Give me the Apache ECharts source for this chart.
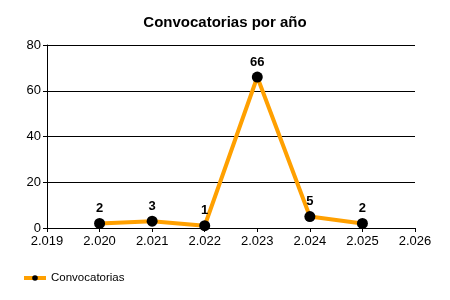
<!DOCTYPE html>
<html><head><meta charset="utf-8">
<script src="https://cdn.jsdelivr.net/npm/echarts@6/dist/echarts.min.js"></script>
<style>html,body{margin:0;padding:0;background:#fff}#c{width:450px;height:300px}</style>
</head><body><div id="c"></div>
<script>
const years = [2020, 2021, 2022, 2023, 2024, 2025];
const convocatorias = [2, 3, 1, 66, 5, 2];
const yTicks = [0, 20, 40, 60, 80];
const seriesName = 'Convocatorias';
const titleText = 'Convocatorias por año';

const fmtYear = v => { const s = String(Math.round(v)); return s.slice(0, 1) + '.' + s.slice(1); };
const FONT = 'Liberation Sans';

const chart = echarts.init(document.getElementById('c'), null, {renderer: 'canvas'});
chart.setOption({
  animation: false,
  backgroundColor: '#fff',
  title: {text: titleText, left: 'center', top: 10,
    textStyle: {fontFamily: FONT, fontSize: 15, fontWeight: 'bold', color: '#000'}},
  grid: {left: 47, right: 35, top: 45, bottom: 72},
  legend: {left: 22, top: 272, padding: 0, itemWidth: 22, itemHeight: 7, itemGap: 10,
    lineStyle: {width: 4, color: '#FFA000'},
    textStyle: {fontFamily: FONT, fontSize: 11.5, color: '#000'},
    data: [seriesName]},
  xAxis: {type: 'value', min: 2019, max: 2026, interval: 1,
    axisLine: {show: true, lineStyle: {color: '#000', width: 1}},
    axisTick: {show: true, length: 4, lineStyle: {color: '#000'}},
    splitLine: {show: false},
    axisLabel: {formatter: fmtYear, color: '#000', fontFamily: FONT, fontSize: 13, margin: 7}},
  yAxis: {type: 'value', min: yTicks[0], max: yTicks[yTicks.length - 1], interval: 20,
    axisLine: {show: true, lineStyle: {color: '#000', width: 1}},
    axisTick: {show: true, length: 4, lineStyle: {color: '#000'}},
    splitLine: {show: true, lineStyle: {color: '#000', width: 1}},
    axisLabel: {color: '#000', fontFamily: FONT, fontSize: 13, margin: 6}},
  series: [{
    name: seriesName, type: 'line',
    data: years.map((y, i) => [y, convocatorias[i]]),
    lineStyle: {color: '#FFA000', width: 4},
    itemStyle: {color: '#000'},
    symbol: 'circle', symbolSize: 11,
    label: {show: true, position: 'top', distance: 3, color: '#000', fontFamily: FONT, fontSize: 13, fontWeight: 'bold'},
    z: 3
  }]
});
</script></body></html>
